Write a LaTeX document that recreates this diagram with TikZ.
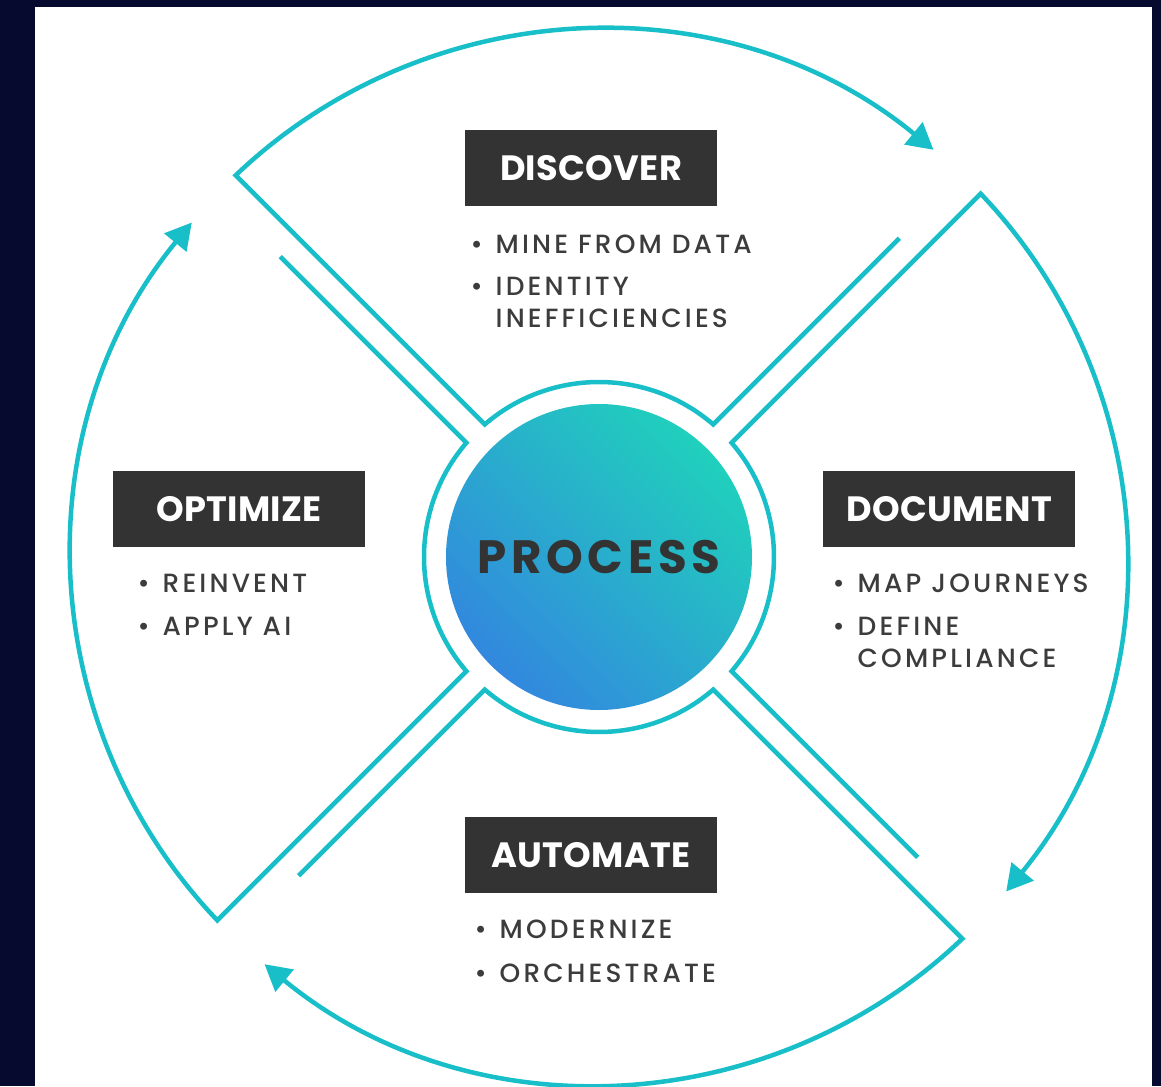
\documentclass[tikz,border=0pt]{standalone}
\usepackage{fontspec}
\setmainfont{Poppins}
\newfontfamily\widefont{Poppins}[LetterSpace=1]
\newfontfamily\widerfont{Poppins}[LetterSpace=12, UprightFont=* Medium]
\newfontfamily\corefont{Poppins}[LetterSpace=10]
\usetikzlibrary{arrows.meta}

\definecolor{navyframe}{RGB}{5,10,46}
\definecolor{ringteal}{RGB}{24,190,200}
\definecolor{coreblue}{RGB}{50,136,222}
\definecolor{coreteal}{RGB}{32,208,188}
\definecolor{boxgray}{RGB}{51,51,51}
\definecolor{inkgray}{RGB}{60,60,60}

\newcommand{\dotitem}{\llap{\textbullet\hspace{1.3mm}}}

\tikzset{
    ring line/.style = {
        draw = ringteal,
        line width = 0.45mm,
        line join = miter,
        },
    stage box/.style = {
        fill = boxgray,
        text = white,
        minimum width = 25.2mm,
        minimum height = 7.6mm,
        inner sep = 0pt,
        font = \widefont\bfseries\fontsize{10}{12}\selectfont,
        },
    step line/.style = {
        anchor = base west,
        inner sep = 0pt,
        text = inkgray,
        font = \widerfont\fontsize{7.5}{9}\selectfont,
        },
    core/.style = {
        circle,
        minimum size = 30.6mm,
        left color = coreblue,
        right color = coreteal,
        shading angle = 135,
        text = boxgray,
        font = \corefont\bfseries\fontsize{13.3}{15}\selectfont,
        },
}

\begin{document}
\begin{tikzpicture}[x=0.1mm, y=0.1mm]
    % frame
    \fill[navyframe] (-599,-529) rectangle (562,557);
    \fill[white] (-564,-529) rectangle (553,550);
    \useasboundingbox (-599,-529) rectangle (562,557);

    % the four sectors, turned a quarter each time
    \foreach \turn in {0,-90,-180,-270} {
        \begin{scope}[rotate=\turn]
            \draw[ring line, -{Triangle[length=2.6mm, width=2.8mm]}]
                (46.7:438) -- (49.26:175)
                arc[start angle=49.26, end angle=130.74, radius=175]
                -- (133.59:527)
                arc[start angle=133.59, end angle=50.6, radius=527];
        \end{scope}
    }

    \node[core] (process) at (0,0) {PROCESS};

    \node[stage box] (discover) at (-8,389) {DISCOVER};
    \node[stage box] (optimize) at (-360,48) {OPTIMIZE};
    \node[stage box] (document) at (350,48) {DOCUMENT};
    \node[stage box] (automate) at (-8,-298) {AUTOMATE};

    \node[step line] (mine) at (-104,304) {\dotitem MINE FROM DATA};
    \node[step line] (identity) at (-104,262) {\dotitem IDENTITY};
    \node[step line] (ineff) at (-104,230) {INEFFICIENCIES};

    \node[step line] (reinvent) at (-437,-35) {\dotitem REINVENT};
    \node[step line] (applyai) at (-437,-78) {\dotitem APPLY AI};

    \node[step line] (journeys) at (258,-35) {\dotitem MAP JOURNEYS};
    \node[step line] (define) at (258,-78) {\dotitem DEFINE};
    \node[step line] (compliance) at (258,-110) {COMPLIANCE};

    \node[step line] (modernize) at (-100,-381) {\dotitem MODERNIZE};
    \node[step line] (orchestrate) at (-100,-425) {\dotitem ORCHESTRATE};
\end{tikzpicture}
\end{document}
